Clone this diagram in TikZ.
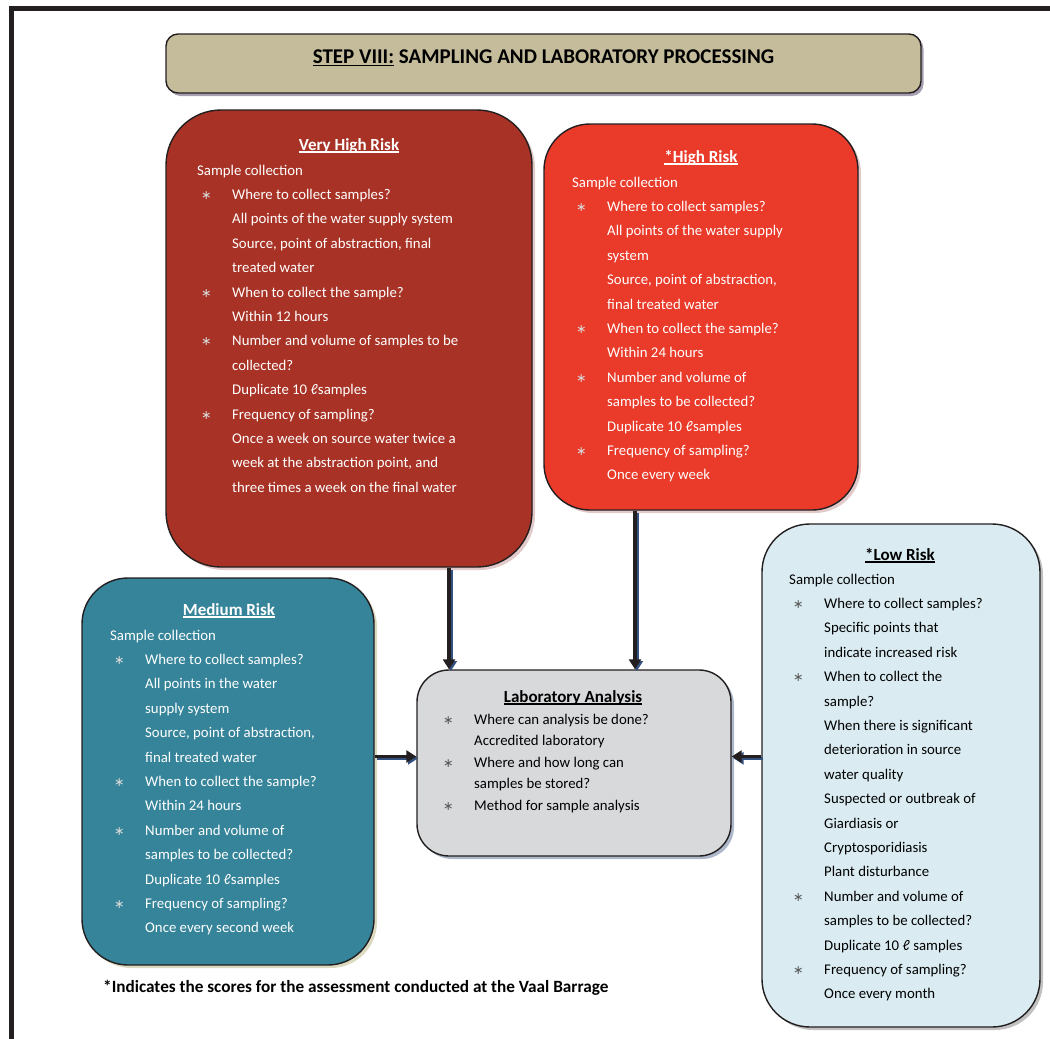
\documentclass[tikz,border=0pt]{standalone}
\usepackage{fontspec}
\setmainfont{Carlito}
\newfontfamily\symfont{DejaVu Sans}
\usetikzlibrary{arrows.meta,shadows}

\definecolor{framec}{HTML}{231F20}
\definecolor{titlefill}{HTML}{C4BC9A}
\definecolor{titleshadow}{HTML}{4E3F63}
\definecolor{vhrfill}{HTML}{A83225}
\definecolor{hrfill}{HTML}{E93A2A}
\definecolor{medfill}{HTML}{36849A}
\definecolor{lowfill}{HTML}{DAECF2}
\definecolor{labfill}{HTML}{D8D9DB}
\definecolor{arrowblue}{HTML}{34507E}
\definecolor{bulletlight}{HTML}{D8D8D8}
\definecolor{bulletdark}{HTML}{5A5A5A}

% asterisk bullet mark
\newcommand\mk{\textcolor{bulletc}{{\symfont\fontsize{12.5}{12.5}\selectfont ∗}}}
% bullet lines and continuation lines of the risk boxes
\newcommand\bl[1]{\makebox[35pt][l]{\hspace{4pt}\mk}#1}
\newcommand\cl[1]{\hspace*{35pt}#1}
% bullet lines of the laboratory box
\newcommand\lb[1]{\makebox[31pt][l]{\mk}#1}
\newcommand\lc[1]{\hspace*{31pt}#1}
% underline drawn close under the baseline
\newcommand\ulin[1]{\setbox0\hbox{#1}\rlap{\rule[-0.15em]{\wd0}{0.065em}}\box0\relax}

\begin{document}
\begin{tikzpicture}[x=1pt,y=-1pt,
  box/.style={draw=framec, line width=1.4pt, inner sep=0pt},
  boxshadow/.style={drop shadow={shadow xshift=3pt, shadow yshift=-3pt, fill=#1, opacity=0.8}},
  head/.style={font=\fontsize{17}{20}\selectfont\bfseries, inner sep=0pt, anchor=base},
  body/.style={font=\fontsize{14.8}{24.4}\selectfont, align=left, inner sep=0pt, anchor=base west},
  conn/.style={draw=framec, line width=3.6pt, -{Triangle[width=12pt,length=10pt]}},
  connshadow/.style={draw=arrowblue, line width=3.6pt, -{Triangle[width=12pt,length=10pt]}},
]
\useasboundingbox (0,0) rectangle (1050,1039);

% page frame
\draw[framec, line width=5pt] (11,1045) -- (11,8.5) -- (1055,8.5);

% title banner
\node[box, fill=titlefill, rounded corners=12pt, minimum width=755pt, minimum height=59pt,
  drop shadow={shadow xshift=2.5pt, shadow yshift=-3pt, fill=titleshadow}] (title) at (543.5,63.5) {};
\node[head, font=\fontsize{21}{24}\selectfont\bfseries, text=black] (titletext) at (543.5,63)
  {\ulin{STEP VIII:} SAMPLING AND LABORATORY PROCESSING};

% very high risk (body nodes are placed by the baseline of their last line)
\node[box, fill=vhrfill, rounded corners=55pt, minimum width=366pt, minimum height=457pt,
  boxshadow=gray!70!red!40] (vhr) at (349,338.5) {};
\node[head, text=white] (vhrhead) at (349,150) {\ulin{Very High Risk}};
\colorlet{bulletc}{bulletlight}
\node[body, text=white] (vhrbody) at (197,492.2) {Sample collection\\
\bl{Where to collect samples?}\\
\cl{All points of the water supply system}\\
\cl{Source, point of abstraction, final}\\
\cl{treated water}\\
\bl{When to collect the sample?}\\
\cl{Within 12 hours}\\
\bl{Number and volume of samples to be}\\
\cl{collected?}\\
\cl{Duplicate 10 ℓsamples}\\
\bl{Frequency of sampling?}\\
\cl{Once a week on source water twice a}\\
\cl{week at the abstraction point, and}\\
\cl{three times a week on the final water}};

% high risk
\node[box, fill=hrfill, rounded corners=46pt, minimum width=314pt, minimum height=386pt,
  boxshadow=gray!70!red!40] (hr) at (701,317) {};
\node[head, text=white] (hrhead) at (701,162) {\ulin{*High Risk}};
\node[body, text=white] (hrbody) at (572,479.8) {Sample collection\\
\bl{Where to collect samples?}\\
\cl{All points of the water supply}\\
\cl{system}\\
\cl{Source, point of abstraction,}\\
\cl{final treated water}\\
\bl{When to collect the sample?}\\
\cl{Within 24 hours}\\
\bl{Number and volume of}\\
\cl{samples to be collected?}\\
\cl{Duplicate 10 ℓsamples}\\
\bl{Frequency of sampling?}\\
\cl{Once every week}};

% medium risk
\node[box, fill=medfill, rounded corners=46pt, minimum width=292pt, minimum height=387pt,
  boxshadow=gray!60!olive!40] (med) at (228,771.5) {};
\node[head, text=white] (medhead) at (229,615) {\ulin{Medium Risk}};
\node[body, text=white] (medbody) at (110,932.8) {Sample collection\\
\bl{Where to collect samples?}\\
\cl{All points in the water}\\
\cl{supply system}\\
\cl{Source, point of abstraction,}\\
\cl{final treated water}\\
\bl{When to collect the sample?}\\
\cl{Within 24 hours}\\
\bl{Number and volume of}\\
\cl{samples to be collected?}\\
\cl{Duplicate 10 ℓsamples}\\
\bl{Frequency of sampling?}\\
\cl{Once every second week}};

% low risk
\colorlet{bulletc}{bulletdark}
\node[box, fill=lowfill, rounded corners=48pt, minimum width=278pt, minimum height=503pt,
  boxshadow=gray!60] (low) at (901,775.5) {};
\node[head, text=black] (lowhead) at (900,560) {\ulin{*Low Risk}};
\node[body, text=black] (lowbody) at (789,998.8) {Sample collection\\
\bl{Where to collect samples?}\\
\cl{Specific points that}\\
\cl{indicate increased risk}\\
\bl{When to collect the}\\
\cl{sample?}\\
\cl{When there is significant}\\
\cl{deterioration in source}\\
\cl{water quality}\\
\cl{Suspected or outbreak of}\\
\cl{Giardiasis or}\\
\cl{Cryptosporidiasis}\\
\cl{Plant disturbance}\\
\bl{Number and volume of}\\
\cl{samples to be collected?}\\
\cl{Duplicate 10 ℓ samples}\\
\bl{Frequency of sampling?}\\
\cl{Once every month}};

% laboratory analysis
\node[box, fill=labfill, rounded corners=32pt, minimum width=314pt, minimum height=186pt,
  boxshadow=arrowblue!50] (lab) at (574,763) {};
\node[head, text=black] (labhead) at (573,702) {\ulin{Laboratory Analysis}};
\node[body, font=\fontsize{14.8}{21.5}\selectfont, text=black] (labbody) at (443,810) {\lb{Where can analysis be done?}\\
\lc{Accredited laboratory}\\
\lb{Where and how long can}\\
\lc{samples be stored?}\\
\lb{Method for sample analysis}};

% connector end points
\coordinate (a1) at ([xshift=100pt]vhr.south);
\coordinate (b1) at (a1 |- lab.north);
\coordinate (a2) at ([xshift=-66pt]hr.south);
\coordinate (b2) at (a2 |- lab.north);
\coordinate (b3) at ([yshift=6.5pt]lab.west);
\coordinate (a3) at (med.east |- b3);
\coordinate (b4) at ([yshift=6.5pt]lab.east);
\coordinate (a4) at (low.west |- b4);

% connectors, each with an offset blue shadow
\foreach \s/\e in {a1/b1, a2/b2, a3/b3, a4/b4}{
  \draw[connshadow] ([shift={(1.8pt,-1.8pt)}]\s) -- ([shift={(1.8pt,-1.8pt)}]\e);
  \draw[conn] (\s) -- (\e);
}

% footnote
\node[inner sep=0pt, anchor=base west, font=\fontsize{17.2}{20}\selectfont\bfseries] (note) at (103,992)
  {*Indicates the scores for the assessment conducted at the Vaal Barrage};
\end{tikzpicture}
\end{document}
